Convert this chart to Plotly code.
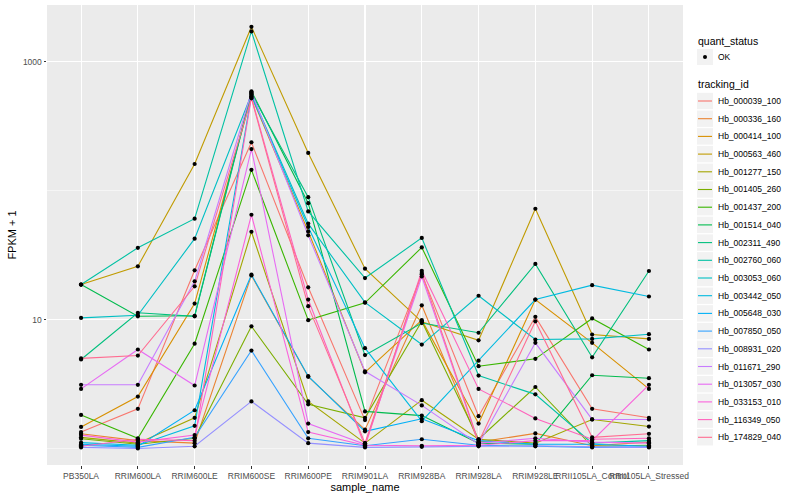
import plotly.graph_objects as go

samples = ["PB350LA", "RRIM600LA", "RRIM600LE", "RRIM600SE", "RRIM600PE", "RRIM901LA",
           "RRIM928BA", "RRIM928LA", "RRIM928LE", "RRII105LA_Control", "RRII105LA_Stressed"]

tracking_ids = ["Hb_000039_100", "Hb_000336_160", "Hb_000414_100", "Hb_000563_460",
                "Hb_001277_150", "Hb_001405_260", "Hb_001437_200", "Hb_001514_040",
                "Hb_002311_490", "Hb_002760_060", "Hb_003053_060", "Hb_003442_050",
                "Hb_005648_030", "Hb_007850_050", "Hb_008931_020", "Hb_011671_290",
                "Hb_013057_030", "Hb_033153_010", "Hb_116349_050", "Hb_174829_040"]

colors = ["#F8766D", "#EA8331", "#D89000", "#C09B00", "#A3A500", "#7CAE00", "#39B600",
          "#00BB4E", "#00BF7D", "#00C1A3", "#00BFC4", "#00BAE0", "#00B0F6", "#35A2FF",
          "#9590FF", "#C77CFF", "#E76BF3", "#FA62DB", "#FF62BC", "#FF6C91"]

quant_status = ["OK"]

# FPKM + 1 per sample (same order as samples)
hb_000039_100 = [1.34, 2.03, 24.1, 237, 17.8, 1.66, 22.5, 1.78, 10.5, 2.03, 1.73]
hb_000336_160 = [1.30, 1.15, 1.10, 22.0, 3.6, 1.40, 12.9, 1.12, 1.31, 1.05, 1.12]
hb_000414_100 = [1.47, 2.53, 13.3, 540, 48.3, 3.9, 9.9, 1.56, 14.3, 6.6, 2.9]
hb_000563_460 = [18.7, 25.9, 161, 1866, 196, 24.8, 9.6, 6.9, 72.4, 7.65, 7.08]
hb_001277_150 = [1.22, 1.10, 1.73, 48, 2.32, 1.10, 2.37, 1.18, 1.10, 1.68, 1.48]
hb_001405_260 = [1.19, 1.08, 1.20, 8.87, 2.2, 1.73, 9.7, 1.18, 3.0, 1.04, 1.06]
hb_001437_200 = [1.82, 1.20, 6.5, 145, 9.9, 13.5, 36.3, 4.35, 4.96, 10.2, 5.86]
hb_001514_040 = [18.7, 10.6, 10.7, 590, 80, 1.94, 1.80, 1.10, 1.08, 3.7, 3.51]
hb_002311_490 = [4.9, 11.3, 10.6, 570, 89, 5.3, 9.4, 7.9, 27, 5.1, 23.8]
hb_002760_060 = [18.7, 36, 60.6, 1718, 69, 21.0, 43, 3.68, 2.63, 1.10, 1.15]
hb_003053_060 = [10.3, 10.8, 42.4, 560, 55.5, 13.6, 6.4, 15.3, 7.0, 7.08, 7.7]
hb_003442_050 = [1.11, 1.06, 1.5, 545, 52.3, 6.0, 1.63, 4.8, 14.3, 18.5, 15.1]
hb_005648_030 = [1.08, 1.04, 1.98, 22.3, 3.64, 1.36, 1.70, 1.15, 1.08, 1.08, 1.04]
hb_007850_050 = [1.06, 1.02, 1.22, 5.75, 1.20, 1.05, 1.18, 1.06, 1.04, 1.02, 1.03]
hb_008931_020 = [1.02, 1.00, 1.04, 2.32, 1.10, 1.02, 1.03, 1.04, 1.05, 1.03, 1.02]
hb_011671_290 = [3.12, 3.12, 19.8, 580, 45, 3.97, 2.16, 1.08, 6.6, 1.68, 1.68]
hb_013057_030 = [2.9, 5.86, 3.08, 210, 1.56, 1.08, 21.6, 1.10, 1.20, 1.12, 1.10]
hb_033153_010 = [1.27, 1.12, 1.27, 65, 1.34, 1.06, 1.05, 1.06, 1.15, 1.15, 3.12]
hb_116349_050 = [1.04, 1.18, 1.15, 530, 14.3, 1.04, 23.9, 2.9, 1.71, 1.18, 1.20]
hb_174829_040 = [5.0, 5.26, 18.1, 520, 12.7, 1.10, 23.0, 1.12, 9.7, 1.22, 1.30]

series = [hb_000039_100, hb_000336_160, hb_000414_100, hb_000563_460, hb_001277_150,
          hb_001405_260, hb_001437_200, hb_001514_040, hb_002311_490, hb_002760_060,
          hb_003053_060, hb_003442_050, hb_005648_030, hb_007850_050, hb_008931_020,
          hb_011671_290, hb_013057_030, hb_033153_010, hb_116349_050, hb_174829_040]

FONT = "Liberation Sans, Arial, sans-serif"
W, H = 800, 500
ML, MR, MT, MB = 47, 117, 5, 35
PW, PH = W - ML - MR, H - MT - MB


def px(x):  # pixel -> paper x
    return (x - ML) / PW


def py(y):  # pixel -> paper y
    return (H - MB - y) / PH


fig = go.Figure()
for tid, col, vals in zip(tracking_ids, colors, series):
    fig.add_trace(go.Scatter(
        x=samples, y=vals, mode="lines", name=tid,
        line=dict(color=col, width=1.1), showlegend=False, hoverinfo="skip"))

all_x, all_y = [], []
for vals in series:
    all_x += samples
    all_y += vals
fig.add_trace(go.Scatter(
    x=all_x, y=all_y, mode="markers", name=quant_status[0],
    marker=dict(color="black", size=4.2), showlegend=False))

# ---- ggplot-style legends (drawn in paper space) ----
shapes, annotations = [], []
KEY_X0, KEY_X1 = 697, 713
TEXT_X = 716

annotations.append(dict(text="quant_status", x=px(696), y=py(41), xref="paper", yref="paper",
                        xanchor="left", yanchor="middle", showarrow=False,
                        font=dict(size=10.5, color="black", family=FONT)))
shapes.append(dict(type="rect", xref="paper", yref="paper", x0=px(KEY_X0), x1=px(KEY_X1),
                   y0=py(49), y1=py(65), fillcolor="#F2F2F2", line=dict(width=0), layer="below"))
shapes.append(dict(type="circle", xref="paper", yref="paper", x0=px(703), x1=px(707),
                   y0=py(55), y1=py(59), fillcolor="black", line=dict(width=0)))
annotations.append(dict(text=quant_status[0], x=px(TEXT_X), y=py(57), xref="paper", yref="paper",
                        xanchor="left", yanchor="middle", showarrow=False,
                        font=dict(size=8.5, color="black", family=FONT)))

annotations.append(dict(text="tracking_id", x=px(696), y=py(84.5), xref="paper", yref="paper",
                        xanchor="left", yanchor="middle", showarrow=False,
                        font=dict(size=10.5, color="black", family=FONT)))
STEP = 17.7
for i, (tid, col) in enumerate(zip(tracking_ids, colors)):
    cy = 101 + i * STEP
    shapes.append(dict(type="rect", xref="paper", yref="paper", x0=px(KEY_X0), x1=px(KEY_X1),
                       y0=py(cy - 8.2), y1=py(cy + 8.2), fillcolor="#F2F2F2",
                       line=dict(width=0), layer="below"))
    shapes.append(dict(type="line", xref="paper", yref="paper", x0=px(KEY_X0 + 1),
                       x1=px(KEY_X1 - 1), y0=py(cy), y1=py(cy),
                       line=dict(color=col, width=1.1)))
    annotations.append(dict(text=tid, x=px(TEXT_X), y=py(cy), xref="paper", yref="paper",
                            xanchor="left", yanchor="middle", showarrow=False,
                            font=dict(size=8.5, color="black", family=FONT)))

fig.update_layout(
    width=W, height=H,
    margin=dict(l=ML, r=MR, t=MT, b=MB, autoexpand=False),
    paper_bgcolor="white", plot_bgcolor="#EBEBEB",
    font=dict(family=FONT, size=9, color="#4D4D4D"),
    showlegend=False,
    shapes=shapes, annotations=annotations,
    xaxis=dict(type="category", categoryorder="array", categoryarray=samples,
               range=[-0.6, 10.6], showgrid=True, gridcolor="white", gridwidth=1.1,
               zeroline=False, showline=False, ticks="outside", ticklen=2.5,
               tickcolor="#333333", tickangle=0, automargin=False,
               tickfont=dict(size=8.5, color="#4D4D4D"),
               title=dict(text="sample_name", font=dict(size=11, color="black"), standoff=1)),
    yaxis=dict(type="log", range=[-0.128, 3.44], tickmode="array", tickvals=[10, 1000],
               ticktext=["10", "1000"], showgrid=True, gridcolor="white", gridwidth=1.1,
               zeroline=False, showline=False, ticks="outside", ticklen=2.5,
               tickcolor="#333333", tickfont=dict(size=8.5, color="#4D4D4D"),
               automargin=False,
               minor=dict(tickmode="array", tickvals=[1, 100], showgrid=True,
                          gridcolor="white", gridwidth=0.5, ticks=""),
               title=dict(text="FPKM + 1", font=dict(size=11, color="black"), standoff=4)),
)

fig.write_html("out.html",
               config={"displayModeBar": False, "staticPlot": True},
               post_script="document.body.style.margin='0';document.body.style.padding='0';")
